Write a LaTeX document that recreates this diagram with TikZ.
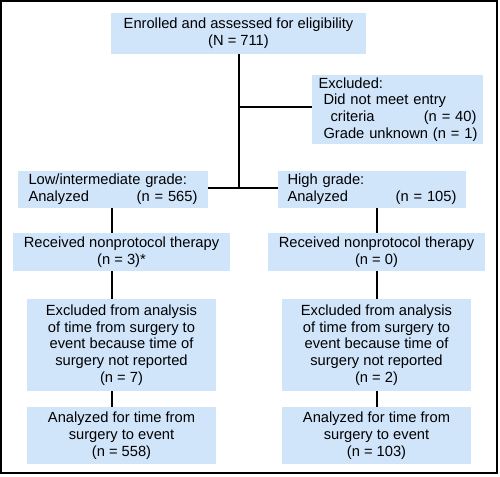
\documentclass[tikz,border=0pt]{standalone}
\usepackage{fontspec}
\setmainfont{Liberation Sans}
\usepackage{xcolor}
\usepackage{tikz}
\usetikzlibrary{calc}
\definecolor{boxblue}{RGB}{208,228,250}

\newcommand{\pushright}{\hskip 0pt plus 1fill}

\begin{document}
\begin{tikzpicture}[x=1pt, y=-1pt,
    every node/.style={font=\fontsize{14.7}{16.7}\selectfont},
    flowbox/.style={fill=boxblue, inner sep=0pt, align=center},
    link/.style={line width=2pt}]
      \useasboundingbox (0,0) rectangle (500,476);
      \draw[line width=1.6pt] (1,1) rectangle (497,473);
      % top of the flow
      \node[flowbox, minimum width=255, minimum height=41] (enrol) at (238.5,33.5) {Enrolled and assessed for eligibility\\(N = 711)};
      \node[flowbox, minimum width=171, minimum height=69, text width=158, align=left] (excl) at (397.5,109.5)
        {Excluded:\\\mbox{\hspace*{5pt}Did not meet entry}\\\makebox[158pt][l]{\hspace*{12pt}criteria\hfill(n = 40)}\\\mbox{\hspace*{5pt}Grade unknown (n = 1)}};
      % the two grades
      \node[flowbox, minimum width=190, minimum height=37, text width=169, align=left] (low) at (113,189.5)
        {Low/intermediate grade:\\Analyzed\pushright(n = 565)};
      \node[flowbox, minimum width=188, minimum height=37, text width=169, align=left] (high) at (372,189.5)
        {High grade:\\Analyzed\pushright(n = 105)};
      \node[flowbox, minimum width=217, minimum height=38] (recL) at (121.5,252) {Received nonprotocol therapy\\(n = 3)*};
      \node[flowbox, minimum width=217, minimum height=38] (recR) at (376.5,252) {Received nonprotocol therapy\\(n = 0)};
      \node[flowbox, minimum width=189, minimum height=92] (exaL) at (121.5,345)
        {Excluded from analysis\\of time from surgery to\\event because time of\\surgery not reported\\(n = 7)};
      \node[flowbox, minimum width=189, minimum height=92] (exaR) at (376.5,345)
        {Excluded from analysis\\of time from surgery to\\event because time of\\surgery not reported\\(n = 2)};
      \node[flowbox, minimum width=189, minimum height=57] (anaL) at (121.5,435.5)
        {Analyzed for time from\\surgery to event\\(n = 558)};
      \node[flowbox, minimum width=189, minimum height=57] (anaR) at (376.5,435.5)
        {Analyzed for time from\\surgery to event\\(n = 103)};
      % connectors
      \coordinate (trunk) at (239,188);
      \coordinate (colL) at (112,0);
      \coordinate (colR) at (377,0);
      \draw[link] (enrol.south -| trunk) -- (trunk);
      \draw[link] (trunk |- 0,107) -- (excl.west |- 0,107);
      \draw[link] (low.east |- trunk) -- (high.west |- trunk);
      \draw[link] (low.south -| colL) -- (recL.north -| colL);
      \draw[link] (recL.south -| colL) -- (exaL.north -| colL);
      \draw[link] (exaL.south -| colL) -- (anaL.north -| colL);
      \draw[link] (high.south -| colR) -- (recR.north -| colR);
      \draw[link] (recR.south -| colR) -- (exaR.north -| colR);
      \draw[link] (exaR.south -| colR) -- (anaR.north -| colR);
\end{tikzpicture}
\end{document}
